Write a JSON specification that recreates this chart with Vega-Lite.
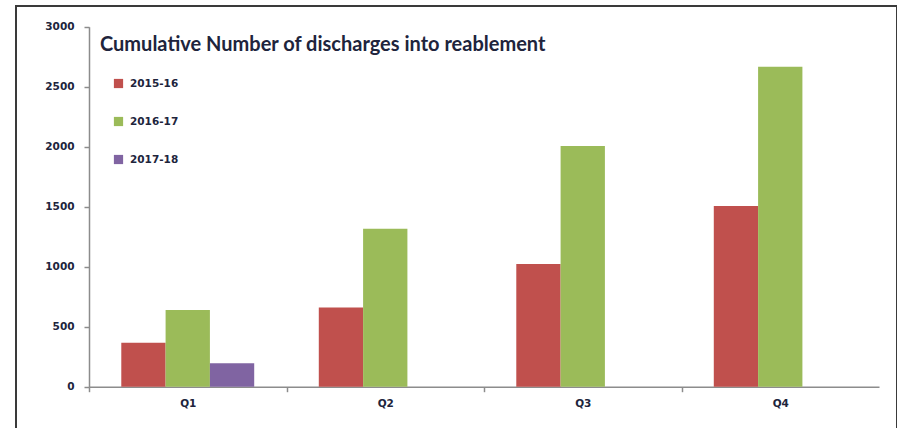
{
  "$schema": "https://vega.github.io/schema/vega-lite/v6.json",
  "autosize": {"type": "none"},
  "padding": {"left": 16, "top": 6, "right": 0, "bottom": 0},
  "width": 881,
  "height": 430,
  "background": "white",
  "config": {
    "view": {"stroke": "#3a3a3a", "strokeWidth": 2},
    "axis": {"grid": false, "labelFont": "DejaVu Sans", "labelFontWeight": "bold", "labelFontSize": 10.5, "labelColor": "#20243c", "domainColor": "#8c8c8c", "tickColor": "#8c8c8c", "domainWidth": 1.5, "tickWidth": 1.5, "tickSize": 5, "title": null},
    "legend": {"labelFont": "DejaVu Sans", "labelFontWeight": "bold", "labelFontSize": 10.5, "labelColor": "#20243c"}
  },
  "title": {
    "text": "Cumulative Number of discharges into reablement",
    "anchor": "start",
    "frame": "group",
    "orient": "top",
    "baseline": "alphabetic",
    "offset": -65,
    "dx": 84,
    "font": "Lato",
    "fontSize": 20,
    "fontWeight": "bold",
    "color": "#20243c"
  },
  "data": {
    "values": [
      {"quarter": "Q1", "year": "2015-16", "value": 367},
      {"quarter": "Q1", "year": "2016-17", "value": 639},
      {"quarter": "Q1", "year": "2017-18", "value": 195},
      {"quarter": "Q2", "year": "2015-16", "value": 661},
      {"quarter": "Q2", "year": "2016-17", "value": 1317},
      {"quarter": "Q3", "year": "2015-16", "value": 1022},
      {"quarter": "Q3", "year": "2016-17", "value": 2006},
      {"quarter": "Q4", "year": "2015-16", "value": 1506},
      {"quarter": "Q4", "year": "2016-17", "value": 2667}
    ]
  },
  "mark": {"type": "bar"},
  "encoding": {
    "x": {
      "field": "quarter",
      "type": "nominal",
      "scale": {"range": [73, 863], "paddingInner": 0.327, "paddingOuter": 0.1635},
      "axis": {"labelAngle": 0, "offset": -49.3, "tickOffset": -98.75, "labelOffset": 98.75, "labelPadding": 7}
    },
    "xOffset": {
      "field": "year",
      "type": "nominal",
      "scale": {"domain": ["2015-16", "2016-17", "2017-18"], "paddingInner": 0, "paddingOuter": 0}
    },
    "y": {
      "field": "value",
      "type": "quantitative",
      "scale": {"domain": [0, 3000], "range": [380.7, 20.7], "nice": false},
      "axis": {"values": [0, 500, 1000, 1500, 2000, 2500, 3000], "format": "d", "offset": -73, "labelPadding": 10}
    },
    "color": {
      "field": "year",
      "type": "nominal",
      "scale": {"domain": ["2015-16", "2016-17", "2017-18"], "range": ["#C0504D", "#9BBB59", "#8064A2"]},
      "legend": {"title": null, "orient": "none", "legendX": 97, "legendY": 72, "symbolType": "square", "symbolSize": 85, "rowPadding": 27, "padding": 0, "labelOffset": 6}
    }
  }
}
